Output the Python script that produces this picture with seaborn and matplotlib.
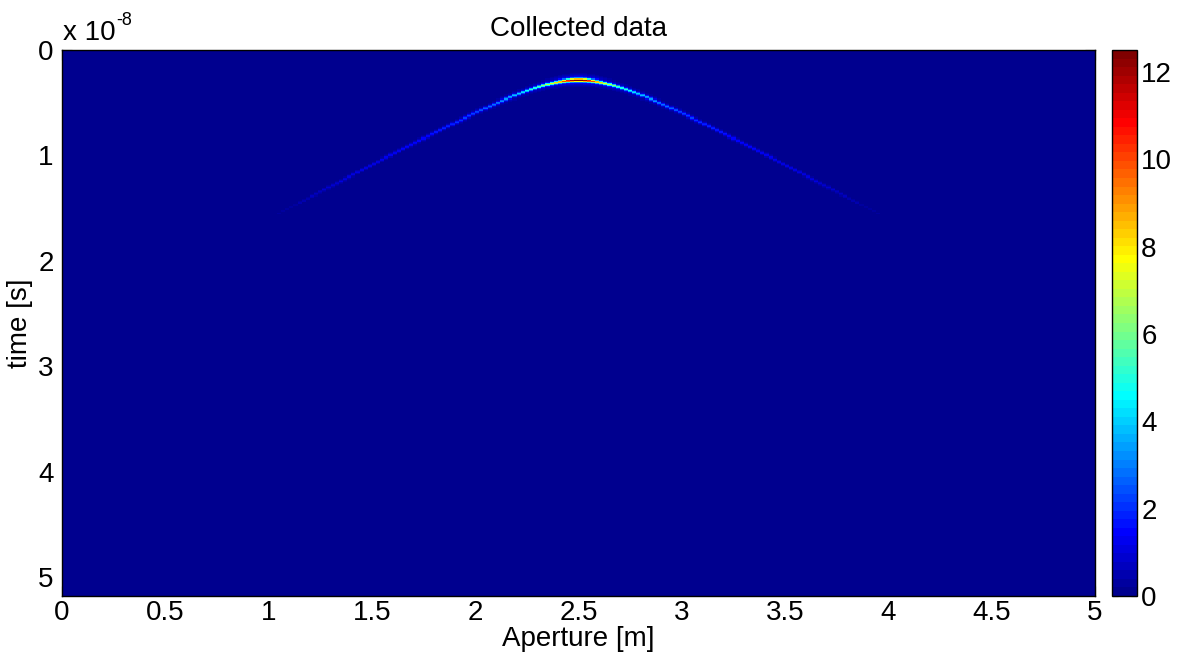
import numpy as np
import pandas as pd
import matplotlib
matplotlib.use("Agg")
import matplotlib.pyplot as plt
from matplotlib.colors import ListedColormap
import seaborn as sns

# Scan geometry (aperture along x, two-way travel time along y)
aperture_min, aperture_max, n_cols = 0.0, 5.0, 250
time_max, n_rows = 5.18e-8, 518

# Point scatterer and medium
scatterer_x = 2.5          # m
scatterer_depth = 0.27     # m
wave_speed = 1.9e8         # m/s

# Echo amplitude and pulse shape
peak_amp = 12.45
spread_len = 0.10          # m, amplitude falls off like spread_len / range
beam_halfwidth = 1.65      # m, echo vanishes beyond this offset
beam_taper = 0.60          # m, width of the fade-out at the beam edge
pulse_sigma = 1.0e-10      # s
halo_sigma = 3.0e-10       # s
halo_ratio = 0.18

colorbar_ticks = [0, 2, 4, 6, 8, 10, 12]
x_ticks = [0, 0.5, 1, 1.5, 2, 2.5, 3, 3.5, 4, 4.5, 5]
x_tick_labels = ["0", "0.5", "1", "1.5", "2", "2.5", "3", "3.5", "4", "4.5", "5"]
y_ticks = [0, 1e-8, 2e-8, 3e-8, 4e-8, 5e-8]
y_tick_labels = ["0", "1", "2", "3", "4", "5"]

# ---- synthesize the collected B-scan ----
dx = (aperture_max - aperture_min) / n_cols
dt = time_max / n_rows
x = aperture_min + (np.arange(n_cols) + 0.5) * dx
t = (np.arange(n_rows) + 0.5) * dt

offset = np.abs(x - scatterer_x)
rng = np.sqrt(scatterer_depth ** 2 + offset ** 2)
t_arrival = 2.0 * rng / wave_speed
amp = peak_amp * spread_len / np.sqrt(spread_len ** 2 + offset ** 2)
edge = np.clip((beam_halfwidth - offset) / beam_taper, 0, 1)
amp = amp * np.sin(0.5 * np.pi * edge) ** 2

tau = t[:, None] - t_arrival[None, :]
pulse = np.exp(-0.5 * (tau / pulse_sigma) ** 2) + halo_ratio * np.exp(-0.5 * (tau / halo_sigma) ** 2)
field = amp[None, :] * pulse / (1 + halo_ratio)
data = pd.DataFrame(field)

# MATLAB-style 64-level jet
def jet64(n=64):
    m = n // 4
    u = np.concatenate([np.arange(1, m + 1) / m, np.ones(m - 1), np.arange(m, 0, -1) / m])
    g = int(np.ceil(m / 2)) - (1 if n % 4 == 1 else 0) + np.arange(1, len(u) + 1)
    J = np.zeros((n, 3))
    for col, idx in ((0, g + m), (1, g), (2, g - m)):
        ok = (idx >= 1) & (idx <= n)
        J[idx[ok] - 1, col] = u[ok]
    return ListedColormap(J)

sns.set_style("white")
plt.rcParams["font.family"] = ["Liberation Sans", "DejaVu Sans"]
for key in ("text.color", "axes.labelcolor", "xtick.color", "ytick.color"):
    plt.rcParams[key] = "black"

W, H = 1179, 662
fig = plt.figure(figsize=(W / 100, H / 100), dpi=100)
ax = fig.add_axes([62 / W, (H - 596) / H, 1033 / W, 546 / H])
cax = fig.add_axes([1112 / W, (H - 596) / H, 25 / W, 546 / H])

sns.heatmap(data, ax=ax, cbar_ax=cax, cmap=jet64(), vmin=0, vmax=12.5,
            xticklabels=False, yticklabels=False, linewidths=0, rasterized=True)

fs = 20
ax.set_xticks([(v - aperture_min) / dx for v in x_ticks])
ax.set_xticklabels(x_tick_labels, rotation=0, fontsize=fs)
ax.set_yticks([v / dt for v in y_ticks])
ax.set_yticklabels(y_tick_labels, rotation=0, fontsize=fs)
ax.tick_params(direction="in", top=True, right=True, bottom=True, left=True,
               length=7, width=0.8, color="black")
ax.tick_params(axis="x", pad=3)
ax.tick_params(axis="y", pad=6)
for s in ax.spines.values():
    s.set_visible(True)
    s.set_color("black")
    s.set_linewidth(1.0)

ax.set_xlabel("Aperture [m]", fontsize=fs, labelpad=0)
ax.set_ylabel("time [s]", fontsize=fs, labelpad=4)
ax.set_title("Collected data", fontsize=fs, pad=10)

# axis multiplier above the time axis
ax.annotate("x 10", xy=(0, 1), xycoords="axes fraction", xytext=(1, 3),
            textcoords="offset points", ha="left", va="bottom", fontsize=fs)
ax.annotate("-8", xy=(0, 1), xycoords="axes fraction", xytext=(39, 15),
            textcoords="offset points", ha="left", va="bottom", fontsize=13)

cbar = ax.collections[0].colorbar
cbar.set_ticks(colorbar_ticks)
cbar.set_ticklabels([str(v) for v in colorbar_ticks])
cax.tick_params(direction="in", left=True, right=True, length=4, width=0.8,
                labelsize=fs, color="black", pad=3)
cbar.outline.set_visible(True)
cbar.outline.set_edgecolor("black")
cbar.outline.set_linewidth(1.0)

fig.savefig("out.png", dpi=100)
